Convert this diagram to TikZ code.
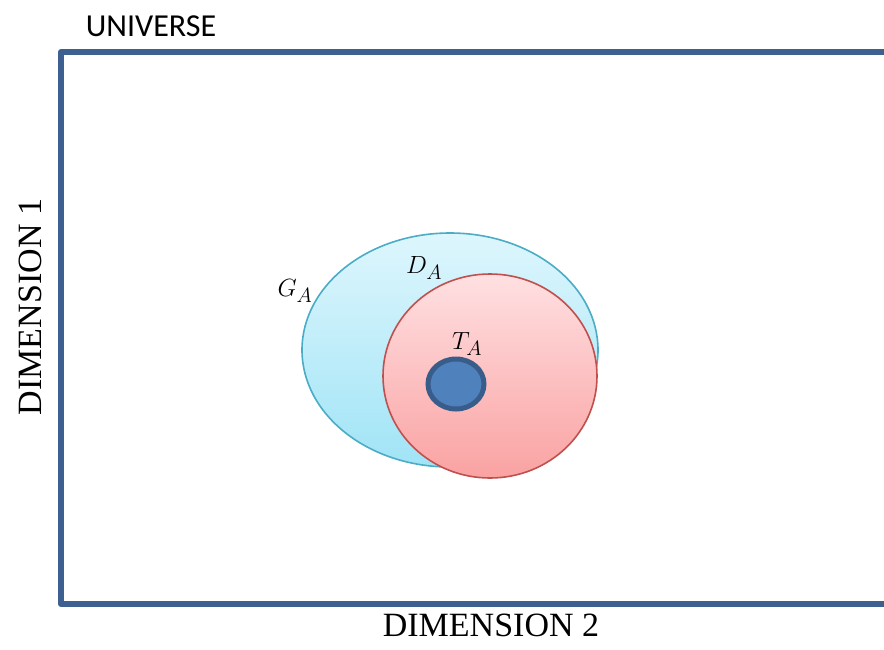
\documentclass[tikz,border=0pt]{standalone}
\usepackage{fontspec}
\setmainfont{Liberation Serif}
\newfontfamily\labelfont{Carlito}
\usepackage{tikz}
\usetikzlibrary{positioning}
\definecolor{frame}{RGB}{62,96,145}
\definecolor{gline}{RGB}{75,172,198}
\definecolor{gtop}{RGB}{222,246,253}
\definecolor{gbot}{RGB}{160,228,246}
\definecolor{tline}{RGB}{192,80,77}
\definecolor{ttop}{RGB}{255,224,226}
\definecolor{tbot}{RGB}{250,162,162}
\definecolor{core}{RGB}{79,129,189}
\definecolor{coreline}{RGB}{56,93,138}
\tikzset{
  universe/.style ={draw=frame, line width=6pt, line join=round},
  setshape/.style ={line width=1.6pt},
  setlabel/.style ={font=\fontsize{32}{35}\selectfont, inner sep=0pt},
  dimlabel/.style ={font=\fontsize{34}{38}\selectfont, inner sep=0pt},
}
\begin{document}
\begin{tikzpicture}[x=1pt, y=-1pt]
\useasboundingbox (0,0) rectangle (884,649);
% universe frame, open to the right
\draw[universe] (900,52) -- (61,52) -- (61,604) -- (900,604);
\node[font=\labelfont\fontsize{32}{36}\selectfont, inner sep=0pt] (uni) at (151,26) {UNIVERSE};
\node[dimlabel] (dim2) at (491,625) {DIMENSION 2};
\node[dimlabel, rotate=90] (dim1) at (30,307) {DIMENSION 1};
% sets
\shade[setshape, draw=gline, top color=gtop, bottom color=gbot] (450,350) ellipse [x radius=148, y radius=117];
\shade[setshape, draw=tline, top color=ttop, bottom color=tbot] (490,376) ellipse [x radius=107, y radius=102];
\draw[draw=coreline, fill=core, line width=5pt] (456,384) ellipse [x radius=28, y radius=25];
\node[setlabel] (ga) at (295,291) {$G_A$};
\node[setlabel] (da) at (424,268) {$D_A$};
\node[setlabel] (ta) at (467,344) {$T_A$};
\end{tikzpicture}
\end{document}
